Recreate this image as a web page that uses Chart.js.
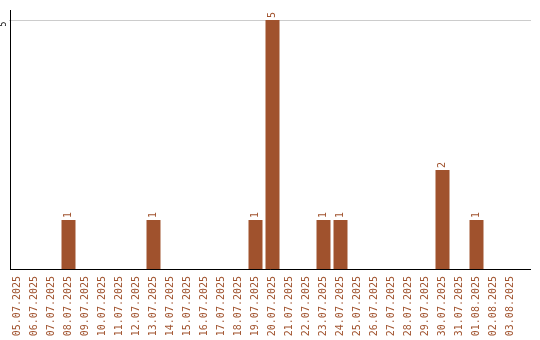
<!DOCTYPE html>
<html>
<head>
<meta charset="utf-8">
<script src="https://cdn.jsdelivr.net/npm/chart.js@4"></script>
<style>
  html, body { margin: 0; padding: 0; background: #fff; }
  #wrap { width: 540px; height: 340px; position: relative; }
</style>
</head>
<body>
<div id="wrap"><canvas id="c" width="540" height="340"></canvas></div>
<script>
const dates = [
  '05.07.2025','06.07.2025','07.07.2025','08.07.2025','09.07.2025','10.07.2025',
  '11.07.2025','12.07.2025','13.07.2025','14.07.2025','15.07.2025','16.07.2025',
  '17.07.2025','18.07.2025','19.07.2025','20.07.2025','21.07.2025','22.07.2025',
  '23.07.2025','24.07.2025','25.07.2025','26.07.2025','27.07.2025','28.07.2025',
  '29.07.2025','30.07.2025','31.07.2025','01.08.2025','02.08.2025','03.08.2025'
];
const counts = [
  0,0,0,1,0,0,
  0,0,1,0,0,0,
  0,0,1,5,0,0,
  1,1,0,0,0,0,
  0,2,0,1,0,0
];
const yTicks = [5];

const BAR = '#A0522D';
const MONO = '"DejaVu Sans Mono", monospace';
const EXTEND = 12;

// Grid line, axis lines, y tick text and value labels
const decor = {
  id: 'decor',
  beforeDatasetsDraw(chart) {
    const { ctx, chartArea: a, scales: { y } } = chart;
    ctx.save();
    ctx.strokeStyle = '#cccccc';
    ctx.lineWidth = 1;
    yTicks.forEach(v => {
      const py = Math.round(y.getPixelForValue(v)) + 0.5;
      ctx.beginPath();
      ctx.moveTo(a.left, py);
      ctx.lineTo(a.right + EXTEND, py);
      ctx.stroke();
    });
    ctx.fillStyle = '#000';
    ctx.font = '8px ' + MONO;
    ctx.textAlign = 'center';
    ctx.textBaseline = 'middle';
    yTicks.forEach(v => {
      const py = y.getPixelForValue(v);
      ctx.save();
      ctx.translate(4, py + 4);
      ctx.rotate(-Math.PI / 2);
      ctx.fillText(String(v), 0, 0);
      ctx.restore();
    });
    ctx.restore();
  },
  afterDatasetsDraw(chart) {
    const { ctx, chartArea: a, scales: { y } } = chart;
    ctx.save();
    ctx.strokeStyle = '#000';
    ctx.lineWidth = 1;
    const by = Math.round(y.getPixelForValue(0)) - 0.5;
    ctx.beginPath();
    ctx.moveTo(a.left + 1, by);
    ctx.lineTo(a.right + EXTEND, by);
    ctx.stroke();
    ctx.beginPath();
    ctx.moveTo(a.left + 1.5, a.top);
    ctx.lineTo(a.left + 1.5, by + 0.5);
    ctx.stroke();

    ctx.fillStyle = BAR;
    ctx.font = '10px ' + MONO;
    ctx.textAlign = 'left';
    ctx.textBaseline = 'middle';
    const meta = chart.getDatasetMeta(0);
    meta.data.forEach((el, i) => {
      const v = counts[i];
      if (!v) return;
      ctx.save();
      ctx.translate(el.x, el.y - 2);
      ctx.rotate(-Math.PI / 2);
      ctx.fillText(String(v), 0, 0);
      ctx.restore();
    });
    ctx.restore();
  }
};

new Chart(document.getElementById('c'), {
  type: 'bar',
  data: {
    labels: dates,
    datasets: [{
      data: counts,
      backgroundColor: BAR,
      borderWidth: 0,
      barPercentage: 1,
      categoryPercentage: 14 / 17
    }]
  },
  options: {
    responsive: false,
    animation: false,
    events: [],
    layout: { padding: { left: 0, right: 21, top: 10, bottom: 0 } },
    plugins: { legend: { display: false }, tooltip: { enabled: false } },
    scales: {
      x: {
        grid: { display: false, drawTicks: false },
        border: { display: false },
        ticks: {
          color: BAR,
          font: { family: MONO, size: 10 },
          minRotation: 90,
          maxRotation: 90,
          autoSkip: false,
          padding: 6
        },
        afterFit(s) { s.height = 70; }
      },
      y: {
        min: 0,
        max: 5.2,
        grid: { display: false, drawTicks: false },
        border: { display: false },
        ticks: { display: false },
        afterFit(s) { s.width = 9; }
      }
    }
  },
  plugins: [decor]
});
</script>
</body>
</html>
